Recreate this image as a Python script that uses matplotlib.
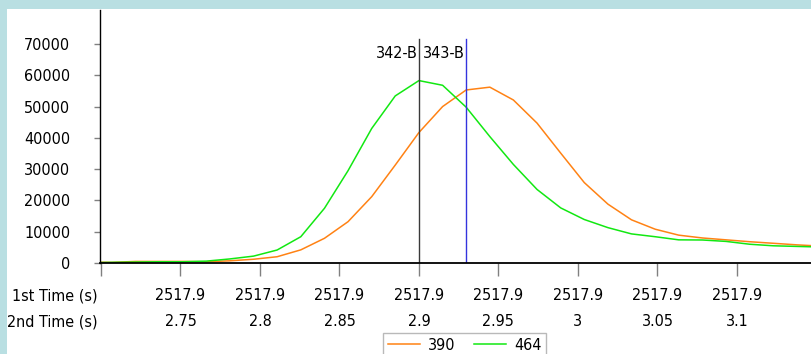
import matplotlib
matplotlib.use("Agg")
from matplotlib import pyplot as plt
from matplotlib.patches import Rectangle

plt.rcParams['font.family'] = ['DejaVu Sans']
plt.rcParams['font.stretch'] = 'condensed'
FS = 11.5

# 2nd dimension retention time (s) of each modulation sample
time_2nd = [2.6920, 2.7068, 2.7217, 2.7366, 2.7514, 2.7663, 2.7811, 2.7960,
            2.8108, 2.8257, 2.8406, 2.8554, 2.8703, 2.8851, 2.9000, 2.9149,
            2.9297, 2.9446, 2.9594, 2.9743, 2.9892, 3.0040, 3.0189, 3.0337,
            3.0486, 3.0634, 3.0783, 3.0932, 3.1080, 3.1229, 3.1377, 3.1526]

# ion traces
mz_390 = [300, 200, 500, 500, 500, 400, 700, 1200,
          2000, 4200, 7900, 13200, 21200, 31300, 41700, 50000,
          55300, 56200, 52100, 44700, 35100, 25700, 18800, 13800,
          10800, 8900, 8000, 7400, 6800, 6300, 5800, 5400]
mz_464 = [100, 200, 300, 400, 400, 600, 1300, 2200,
          4150, 8400, 17500, 29500, 43000, 53400, 58300, 56800,
          49800, 40400, 31500, 23500, 17600, 13900, 11300, 9300,
          8400, 7400, 7350, 6900, 6000, 5500, 5300, 5100]

# peak markers
peak_names = ['342-B', '343-B']
peak_times = [2.900, 2.9296]
peak_colors = ['#3a3a3a', '#3333dd']

tick_2nd = [2.70, 2.75, 2.80, 2.85, 2.90, 2.95, 3.00, 3.05, 3.10]
tick_2nd_labels = ['', '2.75', '2.8', '2.85', '2.9', '2.95', '3', '3.05', '3.1']
time_1st = '2517.9'
y_ticks = [0, 10000, 20000, 30000, 40000, 50000, 60000, 70000]

fig = plt.figure(figsize=(8.11, 3.54), dpi=100)
fig.patch.set_facecolor('#b9dfe2')
fig.patches.append(Rectangle((7 / 811, 0), 1, (354 - 9) / 354,
                             transform=fig.transFigure, facecolor='white',
                             edgecolor='none', zorder=-5))

ax = fig.add_axes([100 / 811, 91 / 354, 711 / 811, 253 / 354])
ax.set_zorder(2)
ax.set_facecolor('none')

l1, = ax.plot(time_2nd, mz_390, color='#ff8214', lw=1.1, label='390')
l2, = ax.plot(time_2nd, mz_464, color='#12e812', lw=1.1, label='464')

for name, t, c in zip(peak_names, peak_times, peak_colors):
    ax.plot([t, t], [0, 71600], color=c, lw=1.0)
    ax.text(t - 0.0010, 66800, name, ha='right', va='center', fontsize=FS)

ax.set_xlim(2.6994, 3.1466)
ax.set_ylim(0, 80860)

ax.set_xticks(tick_2nd)
ax.set_xticklabels(['' if not s else time_1st + '\n' + s for s in tick_2nd_labels],
                   fontsize=FS, linespacing=1.95)
ax.set_yticks(y_ticks)
ax.set_yticklabels([str(v) for v in y_ticks], fontsize=FS)
ax.tick_params(axis='x', length=9, width=1, color='#808080', pad=9)
ax.tick_params(axis='y', length=4.5, width=1, color='#808080', pad=17)

for side in ['top', 'right']:
    ax.spines[side].set_visible(False)
ax.spines['left'].set_linewidth(1.0)
ax.spines['bottom'].set_linewidth(1.3)

# row captions for the two time axes
fig.text(98 / 811, 1 - 296 / 354, '1st Time (s)', ha='right', va='center', fontsize=FS)
fig.text(98 / 811, 1 - 322 / 354, '2nd Time (s)', ha='right', va='center', fontsize=FS)

leg = fig.legend(handles=[l1, l2], loc='upper left',
                 bbox_to_anchor=(383 / 811, 1 - 333 / 354), ncol=2,
                 fontsize=FS, frameon=True, fancybox=False,
                 handlelength=2.0, handletextpad=0.5, columnspacing=1.2,
                 borderpad=0.3, borderaxespad=0)
leg.get_frame().set_edgecolor('#a8a8a8')
leg.get_frame().set_linewidth(1.0)

fig.savefig('out.png', dpi=100, facecolor=fig.get_facecolor())
